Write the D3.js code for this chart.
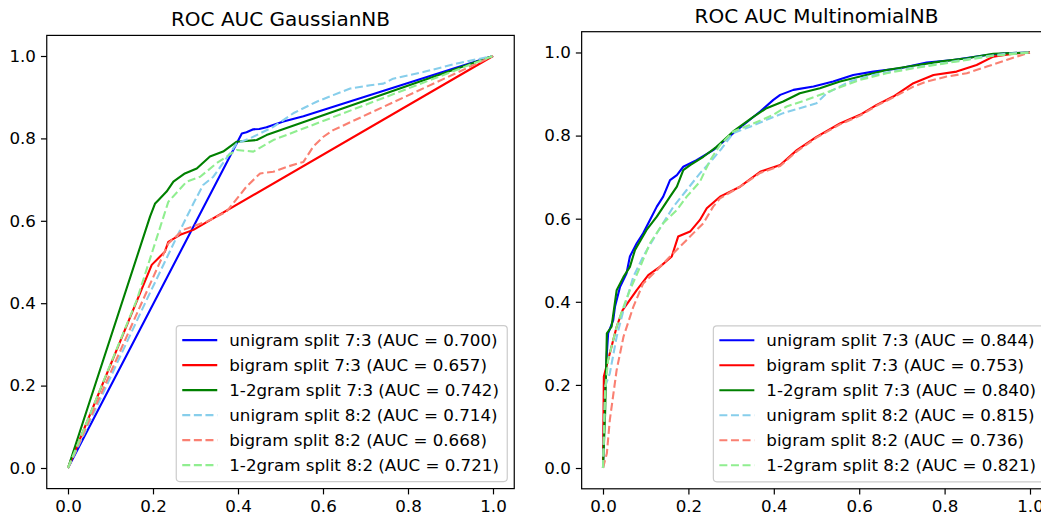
<!DOCTYPE html>
<html><head><meta charset="utf-8">
<script src="https://cdn.jsdelivr.net/npm/d3@7"></script>
<style>body{margin:0;background:#fff} text{font-family:"DejaVu Sans",sans-serif;fill:#000}</style>
</head><body><svg id="c" width="1041" height="517"></svg>
<script>
// ---------- data ----------
const seriesLabels = ["unigram split 7:3","bigram split 7:3","1-2gram split 7:3","unigram split 8:2","bigram split 8:2","1-2gram split 8:2"];
const tickValues = [0,0.2,0.4,0.6,0.8,1.0];
const panelTitles = ["ROC AUC GaussianNB","ROC AUC MultinomialNB"];
const gaussAUC = [0.700,0.657,0.742,0.714,0.668,0.721];
const multiAUC = [0.844,0.753,0.840,0.815,0.736,0.821];

// GaussianNB curves [fpr, tpr]
const gaussUni73 = [[0,0],[0.409,0.812],[0.42,0.815],[0.436,0.822],[0.45,0.823],[0.467,0.827],[0.507,0.841],[0.554,0.854],[1,1]];
const gaussBi73 = [[0,0],[0.197,0.493],[0.216,0.513],[0.228,0.525],[0.236,0.549],[0.264,0.566],[0.295,0.578],[1,1]];
const gaussNgram73 = [[0,0],[0.193,0.61],[0.205,0.642],[0.2125,0.65],[0.232,0.671],[0.248,0.695],[0.275,0.715],[0.303,0.727],[0.334,0.756],[0.365,0.768],[0.397,0.792],[0.444,0.796],[0.467,0.808],[1,1]];
const gaussUni82 = [[0,0],[0.185,0.408],[0.256,0.561],[0.295,0.642],[0.318,0.687],[0.342,0.707],[0.373,0.752],[0.397,0.788],[0.428,0.8],[0.483,0.828],[0.53,0.861],[0.585,0.889],[0.624,0.905],[0.664,0.921],[0.711,0.929],[0.742,0.933],[0.765,0.945],[0.836,0.961],[0.915,0.982],[1,1]];
const gaussBi82 = [[0,0],[0.173,0.4],[0.236,0.545],[0.271,0.578],[0.326,0.598],[0.373,0.622],[0.42,0.683],[0.452,0.715],[0.483,0.719],[0.515,0.731],[0.554,0.743],[0.577,0.78],[0.601,0.804],[0.624,0.82],[1,1]];
const gaussNgram82 = [[0,0],[0.162,0.408],[0.236,0.646],[0.279,0.695],[0.311,0.707],[0.35,0.74],[0.397,0.772],[0.436,0.768],[0.483,0.796],[1,1]];

// MultinomialNB curves [fpr, tpr]
const multiUni73 = [[0,0],[0.003,0.15],[0.009,0.276],[0.012,0.324],[0.024,0.356],[0.028,0.388],[0.040,0.436],[0.055,0.468],[0.063,0.509],[0.079,0.541],[0.094,0.565],[0.11,0.597],[0.126,0.629],[0.141,0.653],[0.157,0.693],[0.173,0.705],[0.188,0.725],[0.219,0.741],[0.258,0.765],[0.305,0.806],[0.344,0.838],[0.368,0.858],[0.399,0.886],[0.415,0.898],[0.446,0.91],[0.493,0.918],[0.539,0.93],[0.586,0.946],[0.633,0.954],[0.696,0.962],[0.758,0.976],[0.82,0.982],[0.899,0.994],[0.945,0.998],[1,1]];
const multiBi73 = [[0,0],[0.002,0.22],[0.016,0.276],[0.032,0.34],[0.046,0.38],[0.079,0.428],[0.106,0.464],[0.133,0.484],[0.161,0.509],[0.176,0.557],[0.204,0.569],[0.227,0.597],[0.243,0.625],[0.274,0.653],[0.321,0.677],[0.368,0.713],[0.415,0.729],[0.454,0.765],[0.5,0.797],[0.555,0.829],[0.602,0.85],[0.641,0.874],[0.68,0.894],[0.727,0.926],[0.774,0.946],[0.828,0.954],[0.875,0.97],[0.914,0.99],[0.961,0.997],[1,1]];
const multiNgram73 = [[0,0],[0.005,0.132],[0.009,0.324],[0.02,0.34],[0.032,0.428],[0.048,0.46],[0.063,0.484],[0.075,0.525],[0.102,0.573],[0.126,0.605],[0.157,0.653],[0.173,0.677],[0.188,0.717],[0.204,0.729],[0.235,0.749],[0.266,0.773],[0.305,0.81],[0.352,0.845],[0.383,0.866],[0.422,0.882],[0.461,0.902],[0.508,0.914],[0.555,0.93],[0.602,0.942],[0.664,0.958],[0.727,0.968],[0.789,0.978],[0.852,0.986],[0.914,0.997],[1,1]];
const multiUni82 = [[0,0],[0.005,0.196],[0.016,0.228],[0.032,0.316],[0.048,0.38],[0.071,0.46],[0.094,0.509],[0.126,0.565],[0.165,0.629],[0.196,0.669],[0.227,0.709],[0.255,0.741],[0.278,0.769],[0.305,0.806],[0.344,0.821],[0.383,0.838],[0.422,0.854],[0.461,0.866],[0.5,0.878],[0.524,0.902],[0.578,0.93],[0.633,0.946],[0.696,0.958],[0.758,0.968],[0.82,0.978],[0.891,0.99],[0.945,0.997],[1,1]];
const multiBi82 = [[0,0],[0.009,0.035],[0.016,0.116],[0.032,0.236],[0.048,0.316],[0.071,0.388],[0.094,0.444],[0.126,0.476],[0.157,0.509],[0.196,0.549],[0.235,0.589],[0.258,0.629],[0.274,0.649],[0.321,0.677],[0.368,0.71],[0.415,0.727],[0.454,0.762],[0.5,0.795],[0.555,0.827],[0.602,0.848],[0.641,0.872],[0.68,0.892],[0.727,0.918],[0.758,0.93],[0.805,0.942],[0.852,0.95],[0.899,0.966],[0.945,0.982],[1,1]];
const multiNgram82 = [[0,0],[0.005,0.186],[0.012,0.26],[0.032,0.34],[0.048,0.388],[0.063,0.428],[0.087,0.484],[0.11,0.541],[0.141,0.589],[0.173,0.621],[0.196,0.653],[0.227,0.689],[0.251,0.741],[0.274,0.777],[0.305,0.81],[0.352,0.829],[0.399,0.85],[0.43,0.87],[0.477,0.886],[0.539,0.91],[0.602,0.934],[0.664,0.95],[0.727,0.962],[0.789,0.972],[0.852,0.982],[0.914,0.992],[1,1]];

// ---------- styles ----------
const seriesColors = ["#0000ff","#ff0000","#008000","#87ceeb","#fa8072","#90ee90"];
const seriesDashed = [false,false,false,true,true,true];

const panels = [
  {title: panelTitles[0], auc: gaussAUC, curves: [gaussUni73,gaussBi73,gaussNgram73,gaussUni82,gaussBi82,gaussNgram82],
   xr: [46.75,514.25], yr: [488.6,35.4], titleY: 25.5},
  {title: panelTitles[1], auc: multiAUC, curves: [multiUni73,multiBi73,multiNgram73,multiUni82,multiBi82,multiNgram82],
   xr: [581.65,1051.35], yr: [488.8,31.7], titleY: 23.2}
];

const svg = d3.select("#c");
const FS = 16.7;

panels.forEach((p, pi) => {
  const x = d3.scaleLinear().domain([-0.05,1.05]).range(p.xr);
  const y = d3.scaleLinear().domain([-0.05,1.05]).range(p.yr);
  const g = svg.append("g");
  const clipId = "clip" + pi;
  g.append("clipPath").attr("id", clipId).append("rect")
    .attr("x", p.xr[0]).attr("y", p.yr[1]).attr("width", p.xr[1]-p.xr[0]).attr("height", p.yr[0]-p.yr[1]);

  const line = d3.line().x(d => x(d[0])).y(d => y(d[1]));
  const lg = g.append("g").attr("clip-path", `url(#${clipId})`);
  p.curves.forEach((c, i) => {
    lg.append("path").datum(c).attr("d", line)
      .attr("fill","none").attr("stroke", seriesColors[i]).attr("stroke-width", 2.1)
      .attr("stroke-dasharray", seriesDashed[i] ? "8,3.6" : null)
      .attr("stroke-linejoin","round");
  });

  // axes
  const xAxis = d3.axisBottom(x).tickValues(tickValues).tickFormat(d3.format(".1f")).tickSizeOuter(0).tickSize(5.8).tickPadding(5);
  const yAxis = d3.axisLeft(y).tickValues(tickValues).tickFormat(d3.format(".1f")).tickSizeOuter(0).tickSize(5.8).tickPadding(5);
  const gx = g.append("g").attr("transform", `translate(0,${p.yr[0]})`).call(xAxis);
  const gy = g.append("g").attr("transform", `translate(${p.xr[0]},0)`).call(yAxis);
  [gx, gy].forEach(a => {
    a.select(".domain").remove();
    a.selectAll(".tick line").attr("stroke","#000").attr("stroke-width",1.2);
    a.selectAll(".tick text").attr("font-size", FS).attr("fill","#000").attr("font-family","DejaVu Sans");
  });
  gx.selectAll(".tick text").attr("dy", "0.74em");

  // frame
  g.append("rect").attr("x", p.xr[0]).attr("y", p.yr[1])
    .attr("width", p.xr[1]-p.xr[0]).attr("height", p.yr[0]-p.yr[1])
    .attr("fill","none").attr("stroke","#000").attr("stroke-width",1.2);

  // title
  g.append("text").attr("x", (p.xr[0]+p.xr[1])/2).attr("y", p.titleY)
    .attr("text-anchor","middle").attr("font-size", 20).text(p.title);

  // legend
  const lw = 331, lh = 156;
  const lx = p.xr[1] - 7 - lw, ly = p.yr[0] - 7 - lh;
  const leg = g.append("g");
  leg.append("rect").attr("x", lx).attr("y", ly).attr("width", lw).attr("height", lh)
    .attr("rx", 3.5).attr("fill","#fff").attr("fill-opacity",0.8)
    .attr("stroke","#cccccc").attr("stroke-width",1.2);
  seriesLabels.forEach((lab, i) => {
    const ry = ly + 14.5 + i * 25;
    leg.append("line").attr("x1", lx + 6).attr("x2", lx + 41).attr("y1", ry).attr("y2", ry)
      .attr("stroke", seriesColors[i]).attr("stroke-width", 2.1)
      .attr("stroke-dasharray", seriesDashed[i] ? "8,3.6" : null);
    leg.append("text").attr("x", lx + 53).attr("y", ry).attr("dy","0.36em")
      .attr("font-size", FS).text(`${lab} (AUC = ${p.auc[i].toFixed(3)})`);
  });
});
</script></body></html>
